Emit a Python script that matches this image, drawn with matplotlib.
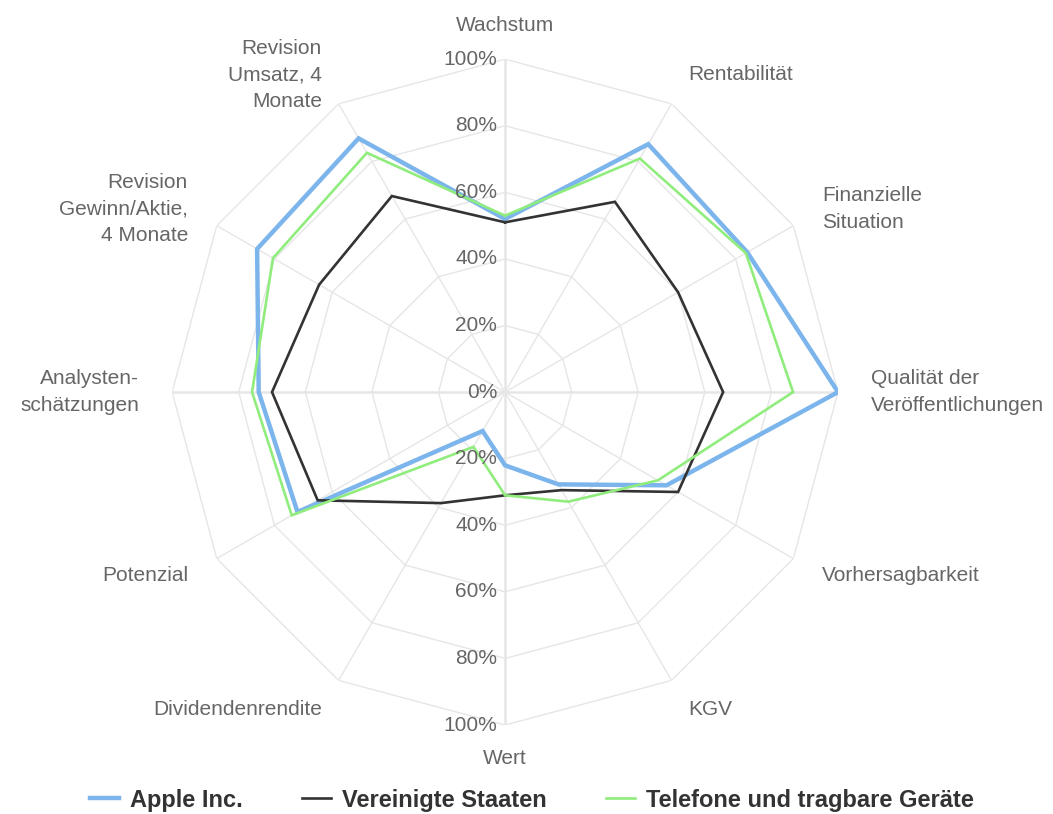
import numpy as np
import matplotlib.pyplot as plt

# Achsen (im Uhrzeigersinn ab oben)
categories = ['Wachstum', 'Rentabilität', 'Finanzielle\nSituation',
              'Qualität der\nVeröffentlichungen', 'Vorhersagbarkeit', 'KGV',
              'Wert', 'Dividendenrendite', 'Potenzial',
              'Analysten-\nschätzungen', 'Revision\nGewinn/Aktie,\n4 Monate',
              'Revision\nUmsatz, 4\nMonate']

apple = [52, 86, 84, 100, 56, 32, 22, 13.5, 72, 74, 86, 88]
usa = [51, 66, 60, 65.5, 60, 34, 31, 38.5, 65, 70, 64.5, 68]
telefone = [53, 81, 83.5, 86.5, 53, 38, 31, 19, 74, 76, 80.5, 83]

series_names = ['Apple Inc.', 'Vereinigte Staaten', 'Telefone und tragbare Geräte']
levels = [0, 20, 40, 60, 80, 100]
level_labels = ['0%', '20%', '40%', '60%', '80%', '100%']

plt.rcParams['font.family'] = ['Liberation Sans', 'DejaVu Sans']

fig = plt.figure(figsize=(10.53, 8.14), dpi=100)
ax = fig.add_axes([0.1634, 0.1093, 0.6325, 0.818], projection='polar')
ax.set_theta_zero_location('N')
ax.set_theta_direction(-1)
ax.set_ylim(0, 100)
ax.grid(False)
ax.set_xticks([])
ax.set_yticks([])
ax.spines['polar'].set_visible(False)

n = len(categories)
theta = np.linspace(0, 2 * np.pi, n, endpoint=False)
theta_c = np.append(theta, theta[0])

# Gitter: Polygone und Speichen
for lv in levels[1:]:
    ax.plot(theta_c, [lv] * (n + 1), color='#e6e6e6', lw=1, zorder=1)
for i, t in enumerate(theta):
    cardinal = i % 3 == 0
    ax.plot([t, t], [0, 100], color='#e6e6e6', lw=1.8 if cardinal else 1, zorder=1)

# Datenreihen
colors = ['#7cb5ec', '#333333', '#90ed7d']
widths = [3.2, 1.9, 1.9]
for vals, name, c, w in zip([apple, usa, telefone], series_names, colors, widths):
    ax.plot(theta_c, vals + vals[:1], color=c, lw=w, label=name, zorder=3,
            solid_joinstyle='miter')

# Radiale Beschriftungen oben und unten
for lv, lab in zip(levels, level_labels):
    ax.annotate(lab, xy=(0, lv), xytext=(-8, 0), textcoords='offset pixels',
                ha='right', va='center', fontsize=15, color='#666666', zorder=4)
    if lv > 0:
        ax.annotate(lab, xy=(np.pi, lv), xytext=(-8, 0), textcoords='offset pixels',
                    ha='right', va='center', fontsize=15, color='#666666', zorder=4)

# Kategorienbeschriftungen
for i, (t, lab) in enumerate(zip(theta, categories)):
    if i in (0, 6):
        ha = 'center'
    elif i < 6:
        ha = 'left'
    else:
        ha = 'right'
    ax.text(t, 110, lab, ha=ha, va='center', fontsize=15, color='#666666',
            linespacing=1.52)

fig.legend(loc='center', bbox_to_anchor=(0.505, 0.017), ncol=3, frameon=False,
           handlelength=1.25, handletextpad=0.45, columnspacing=2.5,
           prop={'family': 'Liberation Sans', 'weight': 'bold', 'size': 17},
           labelcolor='#333333')

fig.savefig('out.png', dpi=100)
